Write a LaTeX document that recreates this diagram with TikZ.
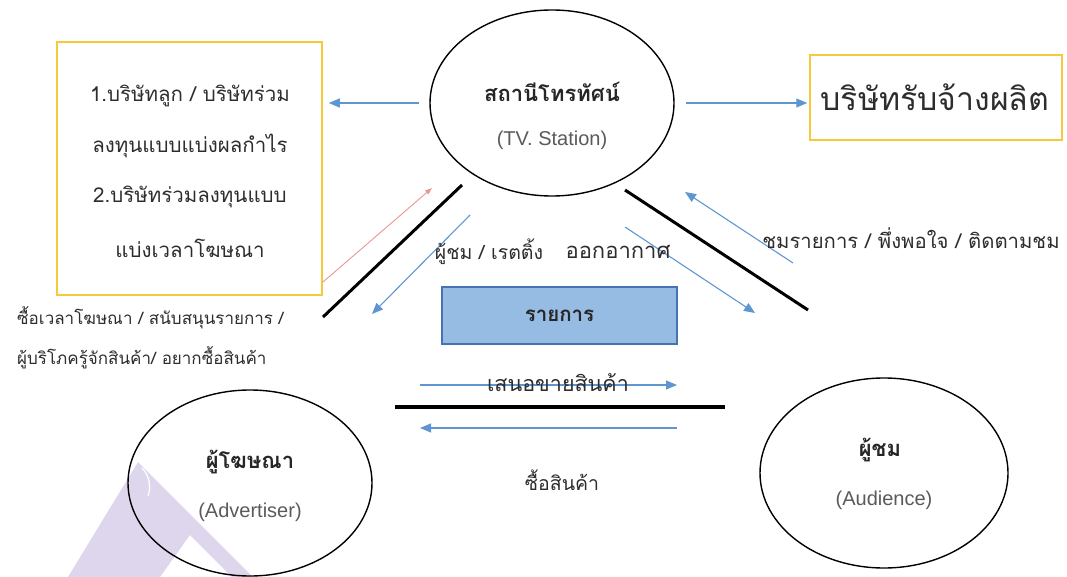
\documentclass[tikz,border=0pt]{standalone}
\usepackage{fontspec}
\setmainfont{Liberation Sans}
\newfontfamily\thai[Script=Thai]{Loma}
\usetikzlibrary{arrows.meta,shapes.geometric}
\definecolor{gold}{RGB}{248,200,60}
\definecolor{arrblue}{RGB}{95,150,210}
\definecolor{arrred}{RGB}{232,150,150}
\definecolor{boxfill}{RGB}{150,188,228}
\definecolor{boxline}{RGB}{70,115,180}
\definecolor{txtdark}{RGB}{45,45,45}
\definecolor{txtgray}{RGB}{90,90,90}
\definecolor{wmark}{RGB}{222,214,236}
\tikzset{
  oval/.style={ellipse, draw=black, line width=1.4pt, minimum width=244pt, minimum height=186pt, inner sep=0pt},
  ybox/.style={draw=gold, line width=1.5pt, inner sep=0pt},
  barrow/.style={draw=arrblue, line width=1.1pt, -{Triangle[length=11pt,width=9pt]}},
  rarrow/.style={draw=arrred, line width=0.9pt, -{Triangle[length=7pt,width=5pt]}},
  sepline/.style={draw=black, line width=3pt},
  thtxt/.style={font=\thai\fontsize{20.5}{24}\selectfont, text=txtdark, inner sep=0pt},
  lbl/.style={font=\thai\fontsize{19.5}{23}\selectfont, text=txtdark, inner sep=0pt},
  title/.style={font=\thai\bfseries\fontsize{22}{26}\selectfont, text=black!85, inner sep=0pt},
  entxt/.style={font=\fontsize{20}{24}\selectfont, text=txtgray, inner sep=0pt}
}
\begin{document}
\begin{tikzpicture}[x=1pt,y=-1pt]
\useasboundingbox (0,0) rectangle (1067,577);
% watermark
\fill[wmark] (138,462) -- (68,577) -- (160,577) -- (190,535) -- (232,577) -- (253,577) -- cycle;
\draw[white, line width=1.2pt] (142,468) .. controls (150,476) and (151,488) .. (148,496);
% boxes
\node[ybox, minimum width=265pt, minimum height=253pt] (lbox) at (189.5,168.5) {};
\node[thtxt] (l1) at (190,96) {1.บริษัทลูก / บริษัทร่วม};
\node[thtxt] (l2) at (190,146) {ลงทุนแบบแบ่งผลกำไร};
\node[thtxt] (l3) at (190,197) {2.บริษัทร่วมลงทุนแบบ};
\node[thtxt] (l4) at (190,248) {แบ่งเวลาโฆษณา};
\node[ybox, minimum width=252pt, minimum height=85pt] (rbox) at (936,97.5) {};
\node[font=\thai\fontsize{32}{36}\selectfont, text=txtdark, inner sep=0pt] (rt) at (935,97) {บริษัทรับจ้างผลิต};
% ellipses
\node[oval] (tv) at (552,103) {};
\node[title] (tvA) at (552,92) {สถานีโทรทัศน์};
\node[entxt] (tvB) at (552,140) {(TV. Station)};
\node[oval] (adv) at (250,483) {};
\node[title] (advA) at (250,462) {ผู้โฆษณา};
\node[entxt] (advB) at (250,512) {(Advertiser)};
\node[oval, minimum width=248pt, minimum height=190pt] (aud) at (884,473) {};
\node[title] (audA) at (880,450) {ผู้ชม};
\node[entxt] (audB) at (884,500) {(Audience)};
% program box
\node[draw=boxline, fill=boxfill, line width=1.2pt, minimum width=235pt, minimum height=57pt, inner sep=0pt,
      font=\thai\bfseries\fontsize{20.5}{24}\selectfont, text=black!85] (prog) at (559.5,315.5) {รายการ};
% top horizontal arrows
\draw[barrow, shorten <=10pt, shorten >=6pt] (tv.west) -- (tv.west -| lbox.east);
\draw[barrow, shorten <=11pt, shorten >=2pt] (tv.east) -- (tv.east -| rbox.west);
% separators
\coordinate (s1a) at (462,185); \coordinate (s1b) at (323,317);
\coordinate (s2a) at (625,190); \coordinate (s2b) at (808,310);
\coordinate (s3a) at (395,407); \coordinate (s3b) at (725,407);
\draw[sepline] (s1a) -- (s1b);
\draw[sepline] (s2a) -- (s2b);
\draw[sepline, line width=4pt] (s3a) -- (s3b);
% diagonal arrows
\coordinate (r1) at (323,282); \coordinate (r2) at (432,188);
\draw[rarrow] (r1) -- (r2);
\coordinate (b1) at (470,215); \coordinate (b2) at (372,314);
\draw[barrow] (b1) -- (b2);
\coordinate (b3) at (625,227); \coordinate (b4) at (755,313);
\draw[barrow] (b3) -- (b4);
\coordinate (b5) at (793,263); \coordinate (b6) at (685,192);
\draw[barrow] (b5) -- (b6);
\coordinate (h1) at (420,385); \coordinate (h2) at (677,385);
\draw[barrow] (h1) -- (h2);
\coordinate (h3) at (677,428); \coordinate (h4) at (420,428);
\draw[barrow] (h3) -- (h4);
% labels
\node[lbl] (la) at (489,252) {ผู้ชม / เรตติ้ง};
\node[lbl, font=\thai\fontsize{22}{26}\selectfont] (lb) at (618,252) {ออกอากาศ};
\node[lbl, font=\thai\fontsize{20.3}{24}\selectfont] (lc) at (911,238) {ชมรายการ / พึ่งพอใจ / ติดตามชม};
\node[lbl, font=\thai\fontsize{21.5}{26}\selectfont] (ld) at (558,383) {เสนอขายสินค้า};
\node[lbl] (le) at (562,480) {ซื้อสินค้า};
\node[lbl, font=\thai\fontsize{17}{20}\selectfont, anchor=west] (lf) at (17,318) {ซื้อเวลาโฆษณา / สนับสนุนรายการ /};
\node[lbl, font=\thai\fontsize{17}{20}\selectfont, anchor=west] (lg) at (17,358) {ผู้บริโภครู้จักสินค้า/ อยากซื้อสินค้า};
\end{tikzpicture}
\end{document}
